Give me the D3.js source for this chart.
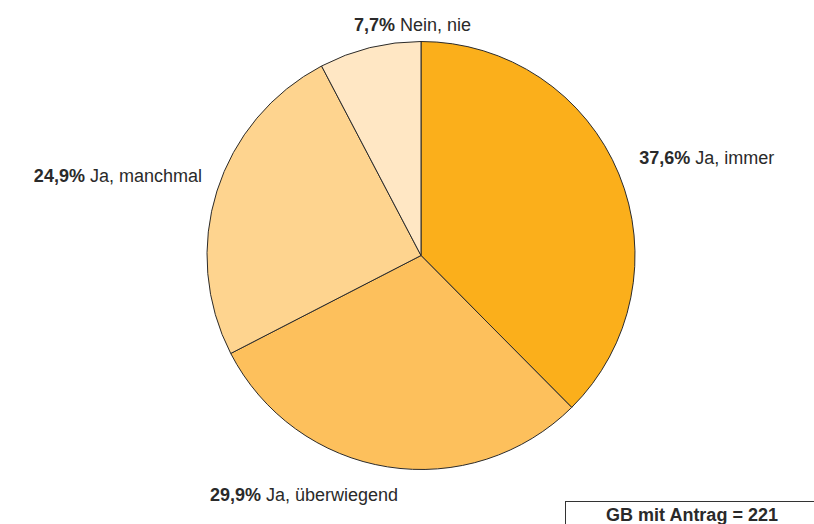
<!DOCTYPE html>
<html><head><meta charset="utf-8">
<script src="https://cdn.jsdelivr.net/npm/d3@7"></script>
<style>html,body{margin:0;padding:0;background:#fff;}svg{display:block;font-family:"Liberation Sans",Arial,sans-serif;}</style>
</head><body>
<svg id="c" width="814" height="524"></svg>
<script>
const categories = ["Ja, immer", "Ja, überwiegend", "Ja, manchmal", "Nein, nie"];
const values = [37.6, 29.9, 24.9, 7.7];
const valueLabels = ["37,6%", "29,9%", "24,9%", "7,7%"];
const colors = ["#FBAF1B", "#FDC05C", "#FED48F", "#FFE7C4"];
const totalLabel = "GB mit Antrag = 221";

const svg = d3.select("#c");
const cx = 421, cy = 255.5, r = 214;
const g = svg.append("g").attr("transform", `translate(${cx},${cy})`);

const pie = d3.pie().sort(null).value(d => d)(values);
const arc = d3.arc().innerRadius(0).outerRadius(r);

g.selectAll("path").data(pie).join("path")
  .attr("d", arc)
  .attr("fill", (d, i) => colors[i])
  .attr("stroke", "#2b2b2b")
  .attr("stroke-width", 1);

// labels placed from each slice's mid angle
const labelArc = d3.arc().innerRadius(236).outerRadius(236);
const anchors = ["start", "end", "end", "middle"];
const shift = [[0, -2], [14, 12], [6, -2], [48, 5]];
const lab = g.selectAll("text.lab").data(pie).join("text")
  .attr("class", "lab")
  .attr("font-size", 18)
  .attr("fill", "#2a2a2a")
  .attr("text-anchor", (d, i) => anchors[i])
  .attr("transform", (d, i) => {
    const [x, y] = labelArc.centroid(d);
    return `translate(${x + shift[i][0]},${y + shift[i][1]})`;
  });
lab.append("tspan").attr("font-weight", "bold").text((d, i) => valueLabels[i]);
lab.append("tspan").text((d, i) => " " + categories[i]);

// N box
svg.append("rect").attr("x", 565.5).attr("y", 501.5).attr("width", 260).attr("height", 40)
  .attr("fill", "#fff").attr("stroke", "#333").attr("stroke-width", 1);
svg.append("text").attr("x", 692).attr("y", 521).attr("text-anchor", "middle")
  .attr("font-size", 18).attr("font-weight", "bold").attr("fill", "#2a2a2a").text(totalLabel);
</script>
</body></html>
